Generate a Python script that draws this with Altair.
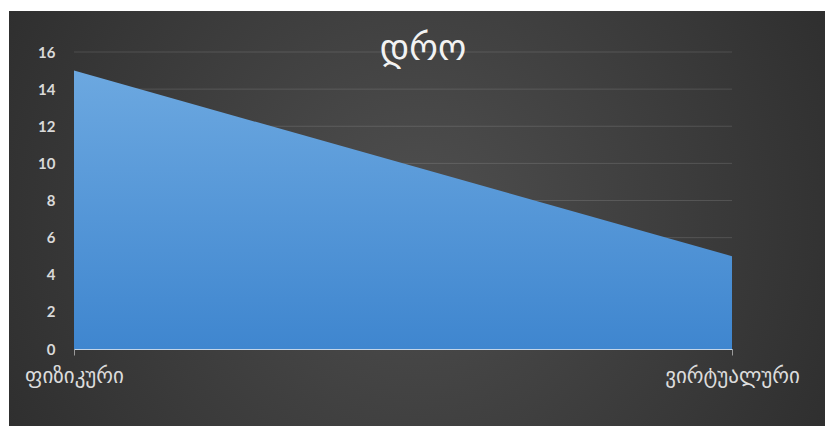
import altair as alt
import pandas as pd

categories = ["ფიზიკური", "ვირტუალური"]
values = [15, 5]
y_ticks = [0, 2, 4, 6, 8, 10, 12, 14, 16]
title_text = "დრო"

W, H = 658, 297
PAD = {"left": 74, "top": 52, "right": 93, "bottom": 77}

df = pd.DataFrame({"cat": categories, "val": values})
grid_df = pd.DataFrame({"y": y_ticks})

x_enc = alt.X("cat:N", sort=categories,
              scale=alt.Scale(type="point", padding=0),
              axis=alt.Axis(title=None, labelAngle=0, grid=False, zindex=1,
                            domainColor="#c3d5e8", domainWidth=1.2,
                            tickColor="#9a9a9a", tickSize=6, ticks=True,
                            labelColor="#dcdcdc", labelFont="DejaVu Sans",
                            labelFontSize=21, labelPadding=10,
                            labelOverlap=False, labelFlush=False))
y_scale = alt.Scale(domain=[0, 16], nice=False)
y_axis = alt.Axis(title=None, values=y_ticks, grid=False, domain=False,
                  ticks=False, tickSize=0, zindex=1,
                  labelOverlap=False, labelFlush=False, labelSeparation=0,
                  labelColor="#d9d9d9", labelFont="Lato", labelFontSize=15,
                  labelFontWeight="bold", labelPadding=19)

bg = alt.Chart(alt.Data(values=[{}])).mark_rect(
    fill=alt.Gradient(gradient="radial",
                      stops=[alt.GradientStop(offset=0, color="#4f4f4f"),
                             alt.GradientStop(offset=1, color="#262626")],
                      x1=0.5, y1=0.5, r1=0, x2=0.5, y2=0.5, r2=0.72)
).encode(x=alt.value(9 - PAD["left"]), x2=alt.value(W + PAD["right"]),
         y=alt.value(11 - PAD["top"]), y2=alt.value(H + PAD["bottom"]))

grid = alt.Chart(grid_df).mark_rule(color="#ffffff", opacity=0.13, strokeWidth=1).encode(
    y=alt.Y("y:Q", scale=y_scale, axis=y_axis),
    x=alt.value(0), x2=alt.value(W))

area = alt.Chart(df).mark_area(
    fill=alt.Gradient(gradient="linear",
                      stops=[alt.GradientStop(offset=0, color="#6ca8e0"),
                             alt.GradientStop(offset=1, color="#3f86cf")],
                      x1=0, y1=0, x2=0, y2=1),
    opacity=1
).encode(x=x_enc, y=alt.Y("val:Q", scale=y_scale, axis=y_axis))

title = alt.Chart(alt.Data(values=[{"t": title_text}])).mark_text(
    font="DejaVu Sans", fontSize=36, fontWeight="normal", color="#f2f2f2",
    align="center", baseline="alphabetic"
).encode(text="t:N", x=alt.value(423 - PAD["left"]), y=alt.value(60 - PAD["top"]))

chart = alt.layer(bg, grid, area, title).properties(
    width=W, height=H,
    padding=PAD,
    autosize=alt.AutoSizeParams(type="none"),
    background="#ffffff",
).configure_view(stroke=None).configure_axisY(labelOverlap=False)

chart.save("out.html", embed_options={"renderer": "svg", "actions": False})
